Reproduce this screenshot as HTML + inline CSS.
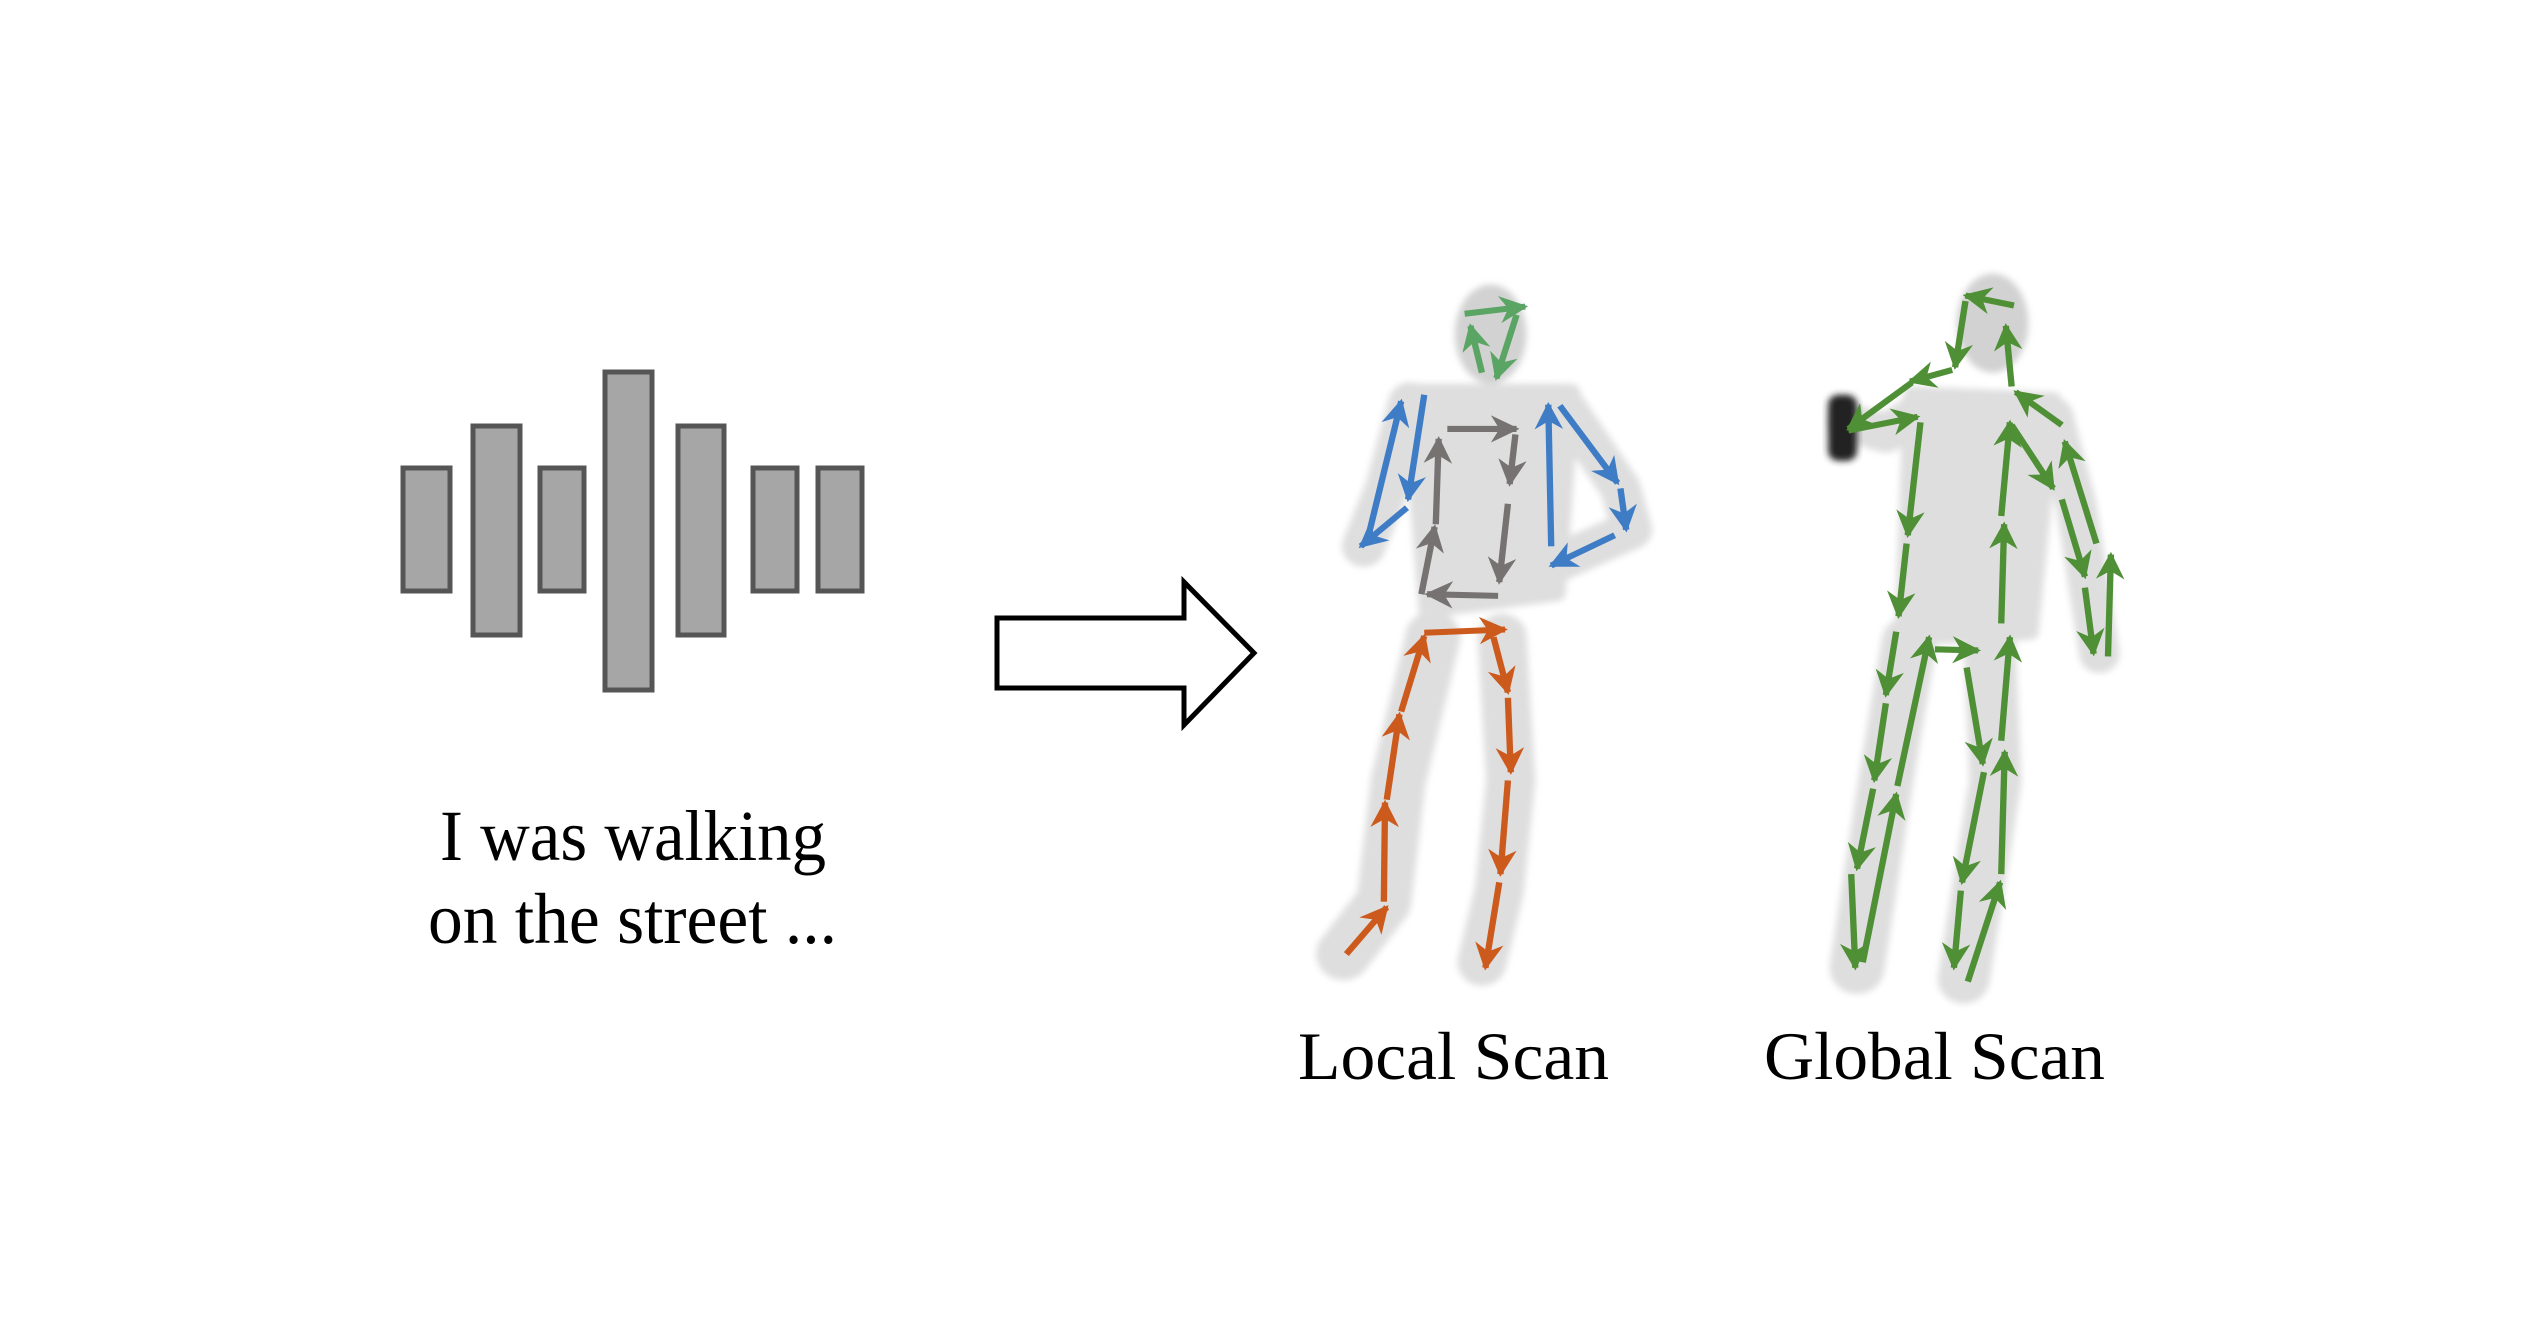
<!DOCTYPE html>
<html><head><meta charset="utf-8"><style>
html,body{margin:0;padding:0;background:#fff;}
svg{display:block;}
</style></head><body>
<svg width="2538" height="1326" viewBox="0 0 2538 1326" xmlns="http://www.w3.org/2000/svg">
<defs>
<filter id="bl" x="-20%" y="-20%" width="140%" height="140%"><feGaussianBlur stdDeviation="6"/></filter>
<marker id="mg" viewBox="0 0 10 10" refX="9" refY="5" markerWidth="4.5" markerHeight="4.5" orient="auto" markerUnits="strokeWidth"><path d="M0,0 L10,5 L0,10 L3,5 z" fill="#5aa464"/></marker>
<marker id="mb" viewBox="0 0 10 10" refX="9" refY="5" markerWidth="4.5" markerHeight="4.5" orient="auto" markerUnits="strokeWidth"><path d="M0,0 L10,5 L0,10 L3,5 z" fill="#3f7cc6"/></marker>
<marker id="my" viewBox="0 0 10 10" refX="9" refY="5" markerWidth="4.5" markerHeight="4.5" orient="auto" markerUnits="strokeWidth"><path d="M0,0 L10,5 L0,10 L3,5 z" fill="#777272"/></marker>
<marker id="mo" viewBox="0 0 10 10" refX="9" refY="5" markerWidth="4.5" markerHeight="4.5" orient="auto" markerUnits="strokeWidth"><path d="M0,0 L10,5 L0,10 L3,5 z" fill="#cc5a1c"/></marker>
<marker id="mG" viewBox="0 0 10 10" refX="9" refY="5" markerWidth="4.5" markerHeight="4.5" orient="auto" markerUnits="strokeWidth"><path d="M0,0 L10,5 L0,10 L3,5 z" fill="#4f8f35"/></marker>
</defs>

<g fill="#a6a6a6" stroke="#555" stroke-width="5">
<rect x="403" y="468" width="47" height="123"/>
<rect x="473" y="426" width="47" height="209"/>
<rect x="540" y="468" width="44" height="123"/>
<rect x="605" y="372" width="47" height="318"/>
<rect x="678" y="426" width="46" height="209"/>
<rect x="753" y="468" width="44" height="123"/>
<rect x="818" y="468" width="44" height="123"/>
</g>
<polygon points="997,618 1184,618 1184,582 1254,653 1184,725 1184,688 997,688" fill="#fff" stroke="#000" stroke-width="5"/>

<g font-family="'Liberation Serif', serif" fill="#000">
<text x="440" y="860" font-size="72" textLength="386" lengthAdjust="spacingAndGlyphs">I was walking</text>
<text x="428" y="943" font-size="72" textLength="409" lengthAdjust="spacingAndGlyphs">on the street ...</text>
<text x="1298" y="1079" font-size="68" textLength="311" lengthAdjust="spacingAndGlyphs">Local Scan</text>
<text x="1764" y="1079" font-size="68" textLength="341" lengthAdjust="spacingAndGlyphs">Global Scan</text>
</g>

<g transform="translate(1280,257) scale(0.577,0.551)">
<g filter="url(#bl)" stroke="#dedede" fill="#dedede" stroke-linecap="round" stroke-linejoin="round">
<ellipse cx="365" cy="140" rx="62" ry="90" fill="#d2d2d2" stroke="none"/>
<polygon points="225,245 505,245 480,610 255,640" stroke-width="30"/>
<polyline points="225,265 185,420 145,525" fill="none" stroke-width="75"/>
<polyline points="490,265 590,420 610,495 470,560" fill="none" stroke-width="70"/>
<polyline points="265,690 205,950 180,1170 110,1265" fill="none" stroke-width="95"/>
<polyline points="385,690 400,950 380,1150 350,1280" fill="none" stroke-width="85"/>
</g>
<g filter="url(#bl)" stroke="#dedede" fill="#dedede" stroke-linecap="round" stroke-linejoin="round">
<ellipse cx="1235" cy="120" rx="62" ry="90" fill="#d2d2d2" stroke="none"/>
<polygon points="1095,250 1340,260 1300,680 1080,690" stroke-width="30"/>
<polyline points="1110,280 1050,320 985,300" fill="none" stroke-width="70"/>
<polyline points="1340,290 1380,450 1420,720" fill="none" stroke-width="70"/>
<polyline points="1090,700 1050,950 1000,1290" fill="none" stroke-width="95"/>
<polyline points="1230,700 1240,950 1185,1310" fill="none" stroke-width="90"/>
</g>
<rect x="950" y="250" width="50" height="120" rx="18" fill="#222" filter="url(#bl)"/>

<g fill="none" stroke-width="11">
<g stroke="#5aa464" marker-end="url(#mg)">
<line x1="320" y1="103" x2="425" y2="90"/>
<line x1="410" y1="105" x2="375" y2="220"/>
<line x1="350" y1="210" x2="330" y2="125"/>
</g>
<g stroke="#3f7cc6" marker-end="url(#mb)">
<line x1="250" y1="250" x2="222" y2="440"/>
<line x1="150" y1="520" x2="210" y2="262"/>
<line x1="220" y1="455" x2="140" y2="525"/>
<line x1="470" y1="525" x2="465" y2="268"/>
<line x1="485" y1="270" x2="585" y2="410"/>
<line x1="590" y1="420" x2="600" y2="495"/>
<line x1="580" y1="505" x2="470" y2="560"/>
</g>
<g stroke="#777272" marker-end="url(#my)">
<line x1="290" y1="312" x2="410" y2="312"/>
<line x1="408" y1="322" x2="398" y2="412"/>
<line x1="395" y1="448" x2="380" y2="590"/>
<line x1="378" y1="615" x2="255" y2="612"/>
<line x1="245" y1="612" x2="268" y2="490"/>
<line x1="270" y1="485" x2="275" y2="330"/>
</g>
<g stroke="#cc5a1c" marker-end="url(#mo)">
<line x1="250" y1="682" x2="390" y2="676"/>
<line x1="370" y1="690" x2="395" y2="790"/>
<line x1="395" y1="800" x2="400" y2="935"/>
<line x1="395" y1="950" x2="382" y2="1120"/>
<line x1="380" y1="1135" x2="356" y2="1290"/>
<line x1="115" y1="1265" x2="185" y2="1180"/>
<line x1="180" y1="1170" x2="182" y2="990"/>
<line x1="185" y1="985" x2="207" y2="830"/>
<line x1="210" y1="825" x2="250" y2="688"/>
</g>
<g stroke="#4f8f35" marker-end="url(#mG)">
<line x1="1272" y1="88" x2="1188" y2="70"/>
<line x1="1188" y1="80" x2="1170" y2="200"/>
<line x1="1165" y1="205" x2="1092" y2="226"/>
<line x1="1095" y1="228" x2="985" y2="312"/>
<line x1="985" y1="315" x2="1105" y2="290"/>
<line x1="1110" y1="300" x2="1088" y2="505"/>
<line x1="1086" y1="520" x2="1072" y2="652"/>
<line x1="1068" y1="680" x2="1050" y2="795"/>
<line x1="1050" y1="810" x2="1030" y2="950"/>
<line x1="1028" y1="965" x2="1000" y2="1110"/>
<line x1="990" y1="1120" x2="997" y2="1290"/>
<line x1="1010" y1="1280" x2="1068" y2="975"/>
<line x1="1070" y1="960" x2="1125" y2="690"/>
<line x1="1135" y1="712" x2="1210" y2="714"/>
<line x1="1190" y1="745" x2="1218" y2="920"/>
<line x1="1220" y1="935" x2="1182" y2="1135"/>
<line x1="1180" y1="1150" x2="1168" y2="1290"/>
<line x1="1192" y1="1315" x2="1248" y2="1135"/>
<line x1="1250" y1="1120" x2="1256" y2="898"/>
<line x1="1250" y1="878" x2="1265" y2="690"/>
<line x1="1250" y1="665" x2="1255" y2="485"/>
<line x1="1250" y1="470" x2="1265" y2="300"/>
<line x1="1268" y1="235" x2="1258" y2="125"/>
<line x1="1355" y1="305" x2="1275" y2="245"/>
<line x1="1268" y1="305" x2="1340" y2="420"/>
<line x1="1415" y1="520" x2="1360" y2="335"/>
<line x1="1355" y1="440" x2="1395" y2="580"/>
<line x1="1395" y1="600" x2="1410" y2="720"/>
<line x1="1435" y1="725" x2="1440" y2="540"/>
</g>
</g>
</g>
</svg>
</body></html>
